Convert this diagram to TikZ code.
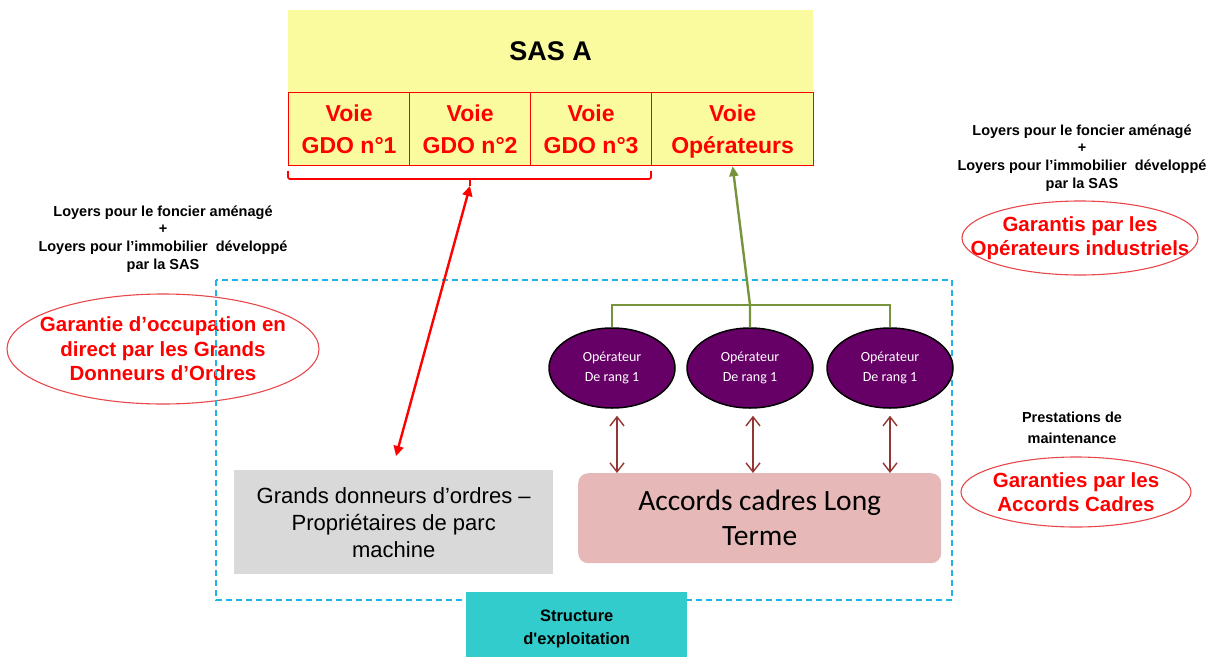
\documentclass[tikz,border=0pt]{standalone}
\usepackage{fontspec}
\setmainfont{Liberation Sans}
\newfontfamily\calibri{Carlito}
\usetikzlibrary{shapes.geometric,arrows.meta}

\definecolor{sasyellow}{HTML}{FAFA9E}
\definecolor{voiered}{HTML}{FF0000}
\definecolor{ovalred}{HTML}{E8474B}
\definecolor{dashblue}{HTML}{1FB4EA}
\definecolor{opgreen}{HTML}{77933C}
\definecolor{oppurple}{HTML}{660066}
\definecolor{arrowbrown}{HTML}{943634}
\definecolor{gdogrey}{HTML}{D9D9D9}
\definecolor{accordpink}{HTML}{E6B9B8}
\definecolor{structteal}{HTML}{33CCCC}

\tikzset{
  voie/.style={draw=voiered, line width=1.2pt, fill=sasyellow, text=voiered, font=\fontsize{23}{32}\selectfont\bfseries,
    align=center, minimum height=73pt, inner sep=0pt, anchor=north west},
  loyers/.style={font=\fontsize{14.5}{17.7}\selectfont\bfseries, align=center},
  garantie/.style={text=voiered, font=\fontsize{20.5}{24.5}\selectfont\bfseries, align=center, inner sep=0pt},
  ovale/.style={ovalred, line width=1.1pt},
  operateur/.style={ellipse, draw=black, line width=1.5pt, fill=oppurple, text=white,
    font=\calibri\fontsize{14}{19.5}\selectfont, align=center,
    minimum width=126pt, minimum height=80pt, inner sep=0pt},
  lien/.style={arrowbrown, line width=1.4pt,
    {Straight Barb[length=9pt,width=14pt]}-{Straight Barb[length=9pt,width=14pt]}},
}

\begin{document}
\begin{tikzpicture}[x=1pt,y=-1pt]

% ---------- frame: 1215 x 656, y grows downwards ----------
\useasboundingbox (0,0) rectangle (1215,656);

% ---------- SAS A and its lanes ----------
\node[fill=sasyellow, minimum width=525pt, minimum height=82pt, inner sep=0pt, anchor=north west,
  font=\fontsize{27}{30}\selectfont\bfseries] (sas) at (288,10) {SAS A};
\node[voie, minimum width=121pt] (gdo1) at (288,92) {Voie\\GDO n°1};
\node[voie, minimum width=121pt] (gdo2) at (409,92) {Voie\\GDO n°2};
\node[voie, minimum width=121pt] (gdo3) at (530,92) {Voie\\GDO n°3};
\node[voie, minimum width=162pt] (opvoie) at (651,92) {Voie\\\smash{Opérateurs}};

% ---------- brace under the GDO lanes ----------
\draw[voiered, line width=1.8pt, rounded corners=2pt] (288,171) -- (288,179) -- (651,179) -- (651,171);
\draw[voiered, line width=1.8pt] (470,179) -- (470,186);
\coordinate (accolade) at (470,186);

% ---------- left side ----------
\node[loyers] (loyersgdo) at (163,239)
  {Loyers pour le foncier aménagé\\+\\Loyers pour l’immobilier\ \ développé\\par la SAS};
\node[garantie] (garantgdo) at (163,349) {Garantie d’occupation en\\direct par les Grands\\Donneurs d’Ordres};
\draw[ovale] (garantgdo.center) ellipse [x radius=156pt, y radius=55pt];

% ---------- right side ----------
\node[loyers] (loyersop) at (1082,158)
  {Loyers pour le foncier aménagé\\+\\Loyers pour l’immobilier\ \ développé\\par la SAS};
\node[garantie] (garantop) at (1080,238) {Garantis par les\\Opérateurs industriels};
\draw[ovale] (garantop.center) ellipse [x radius=118pt, y radius=37pt];

\node[loyers, font=\fontsize{14.5}{21}\selectfont\bfseries] (prestations) at (1072,428) {Prestations de\\maintenance};
\node[garantie] (garantac) at (1076,492) {Garanties par les\\Accords Cadres};
\draw[ovale] (garantac.center) ellipse [x radius=115pt, y radius=35pt];

% ---------- structure d'exploitation ----------
\draw[dashblue, line width=2pt, dash pattern=on 6pt off 4pt] (216,280) rectangle (952,600);

\node[operateur] (op1) at (612,368) {Opérateur\\De rang 1};
\node[operateur] (op2) at (750,368) {Opérateur\\De rang 1};
\node[operateur] (op3) at (890,368) {Opérateur\\De rang 1};

\node[fill=gdogrey, minimum width=319pt, minimum height=104pt, inner sep=0pt, anchor=north west,
  align=center, font=\fontsize{22}{27}\selectfont] (gdo) at (234,470)
  {Grands donneurs d’ordres –\\Propriétaires de parc\\machine};
\node[fill=accordpink, rounded corners=10pt, minimum width=363pt, minimum height=90pt, inner sep=0pt,
  anchor=north west, align=center, font=\calibri\fontsize{29.5}{35}\selectfont] (accords) at (578,473)
  {Accords cadres Long\\Terme};

\node[fill=structteal, minimum width=221pt, minimum height=73pt, inner sep=0pt, anchor=north west,
  align=center, font=\fontsize{16.5}{23}\selectfont\bfseries] (structure) at (466,592)
  {Structure\\d\textquotesingle exploitation};

% ---------- connectors ----------
\coordinate (gdobas) at (396,456);
\draw[voiered, line width=2.4pt,
  {Triangle[length=10pt,width=10pt]}-{Triangle[length=10pt,width=10pt]}] (accolade) -- (gdobas);

\coordinate (jonction) at (750,305);
\draw[opgreen, line width=2.4pt] (op1.north) -- (op1.north |- jonction) -- (op3.north |- jonction) -- (op3.north);
\draw[opgreen, line width=2.4pt, -{Triangle[length=10pt,width=9pt]}] (op2.north) -- (jonction) -- (opvoie.south);

\draw[lien, shorten <=7pt] ([xshift=5pt]op1.south) -- ([xshift=5pt]op1.south |- accords.north);
\draw[lien, shorten <=7pt] ([xshift=3pt]op2.south) -- ([xshift=3pt]op2.south |- accords.north);
\draw[lien, shorten <=7pt] (op3.south) -- (op3.south |- accords.north);

\end{tikzpicture}
\end{document}
